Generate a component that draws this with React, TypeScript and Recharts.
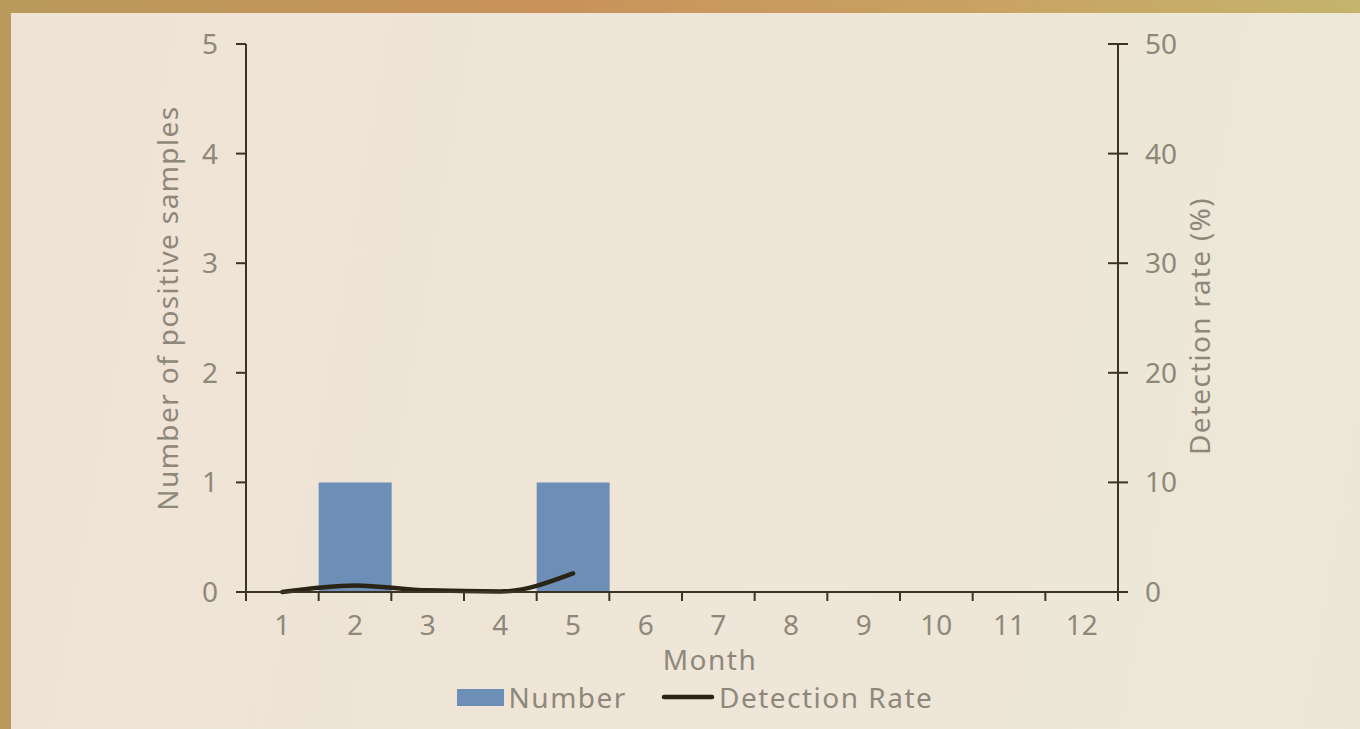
import React from 'react';
import { ComposedChart, Bar, Line, XAxis, YAxis, Legend } from 'recharts';

const months = ['1', '2', '3', '4', '5', '6', '7', '8', '9', '10', '11', '12'];
const positiveCounts = [0, 1, 0, 0, 1, 0, 0, 0, 0, 0, 0, 0];
const detectionRates: Array<number | null> = [0, 0.6, 0.15, 0.05, 1.7, null, null, null, null, null, null, null];
const leftTicks = [0, 1, 2, 3, 4, 5];
const rightTicks = [0, 10, 20, 30, 40, 50];

const FONT = '"Noto Sans", sans-serif';
const TEXT = '#8e887b';
const AXIS = '#3b3324';
const BAR = '#6d8eb6';
const LINE = '#2a2417';

const chartData = months.map((m, i) => ({
  month: m,
  number: positiveCounts[i],
  rate: detectionRates[i],
}));

const X_TICK_SIZE = 8;
const X_TICK_MARGIN = 12;

// category ticks sit on band edges, so draw them ourselves
const MonthTick = (props: any) => {
  const { x, y, payload, index, width, visibleTicksCount } = props;
  const band = width / visibleTicksCount;
  const top = y - X_TICK_SIZE - X_TICK_MARGIN;
  return (
    <g>
      <line x1={x - band / 2} x2={x - band / 2} y1={top} y2={top + X_TICK_SIZE + 1} stroke={AXIS} strokeWidth={2} />
      {index === visibleTicksCount - 1 && (
        <line x1={x + band / 2} x2={x + band / 2} y1={top} y2={top + X_TICK_SIZE + 1} stroke={AXIS} strokeWidth={2} />
      )}
      <text x={x} y={y} dy={23} textAnchor="middle" fill={TEXT} fontSize={28} fontFamily={FONT}>
        {payload.value}
      </text>
    </g>
  );
};

const RightTick = (props: any) => {
  const { x, y, payload } = props;
  const axisX = x - 27;
  return (
    <g>
      <line x1={axisX - 10} x2={axisX + 10} y1={y} y2={y} stroke={AXIS} strokeWidth={2} />
      <text x={x} y={y} dy={10} textAnchor="start" fill={TEXT} fontSize={28} fontFamily={FONT}>
        {payload.value}
      </text>
    </g>
  );
};

const LegendContent = () => (
  <div
    style={{
      height: 40,
      display: 'flex',
      justifyContent: 'center',
      alignItems: 'center',
      fontFamily: FONT,
      fontSize: 28,
      letterSpacing: 1.5,
      color: TEXT,
      paddingLeft: 32,
    }}
  >
    <span style={{ display: 'inline-block', width: 47, height: 17, background: BAR, marginRight: 5 }} />
    <span>Number</span>
    <svg width={54} height={10} style={{ marginLeft: 34, marginRight: 4 }}>
      <line x1={3} x2={51} y1={5} y2={5} stroke={LINE} strokeWidth={4.5} strokeLinecap="round" />
    </svg>
    <span>Detection Rate</span>
  </div>
);

export default function App() {
  return (
    <div
      style={{
        position: 'fixed',
        left: 0,
        top: 0,
        width: 1360,
        height: 729,
        background: 'linear-gradient(90deg, #b9995c 0%, #c8925a 40%, #c9a462 75%, #c4b46c 100%)',
        overflow: 'hidden',
      }}
    >
      <div
        style={{
          position: 'absolute',
          left: 11,
          top: 13,
          right: 0,
          bottom: 0,
          background: 'linear-gradient(100deg, #efe3d5 0%, #eee6d8 60%, #ece8d8 100%)',
        }}
      />
      <div style={{ position: 'absolute', left: 0, top: 0 }}>
        <ComposedChart
          width={1360}
          height={729}
          data={chartData}
          barCategoryGap="0%"
          margin={{ top: 44, right: 132, bottom: 12, left: 130 }}
        >
          <XAxis
            dataKey="month"
            xAxisId="m"
            height={85}
            tickLine={false}
            tickSize={X_TICK_SIZE}
            tickMargin={X_TICK_MARGIN}
            axisLine={{ stroke: AXIS, strokeWidth: 2 }}
            tick={<MonthTick />}
            interval={0}
            label={{
              value: 'Month',
              position: 'insideBottom',
              offset: 7,
              dx: 28,
              fill: TEXT,
              fontSize: 28,
              fontFamily: FONT,
              letterSpacing: 1.5,
            }}
          />
          <YAxis
            yAxisId="left"
            width={116}
            domain={[0, 5]}
            ticks={leftTicks}
            tickSize={10}
            tickMargin={18}
            axisLine={{ stroke: AXIS, strokeWidth: 2 }}
            tickLine={{ stroke: AXIS, strokeWidth: 2 }}
            tick={{ fill: TEXT, fontSize: 28, fontFamily: FONT }}
            label={{
              value: 'Number of positive samples',
              angle: -90,
              position: 'center',
              dx: -20,
              dy: -10,
              fill: TEXT,
              fontSize: 28,
              fontFamily: FONT,
              letterSpacing: 1.4,
            }}
          />
          <YAxis
            yAxisId="right"
            orientation="right"
            width={110}
            domain={[0, 50]}
            ticks={rightTicks}
            tickSize={10}
            tickMargin={17}
            tickLine={false}
            axisLine={{ stroke: AXIS, strokeWidth: 2 }}
            tick={<RightTick />}
            label={{
              value: 'Detection rate (%)',
              angle: -90,
              position: 'center',
              dx: 27,
              dy: 8,
              fill: TEXT,
              fontSize: 28,
              fontFamily: FONT,
              letterSpacing: 1.3,
            }}
          />
          <Legend verticalAlign="bottom" content={<LegendContent />} />
          <Bar
            xAxisId="m"
            yAxisId="left"
            dataKey="number"
            name="Number"
            fill={BAR}
            isAnimationActive={false}
          />
          <Line
            xAxisId="m"
            yAxisId="right"
            dataKey="rate"
            name="Detection Rate"
            type="monotone"
            stroke={LINE}
            strokeWidth={4.5}
            strokeLinecap="round"
            dot={false}
            activeDot={false}
            connectNulls={false}
            isAnimationActive={false}
          />
        </ComposedChart>
      </div>
    </div>
  );
}
